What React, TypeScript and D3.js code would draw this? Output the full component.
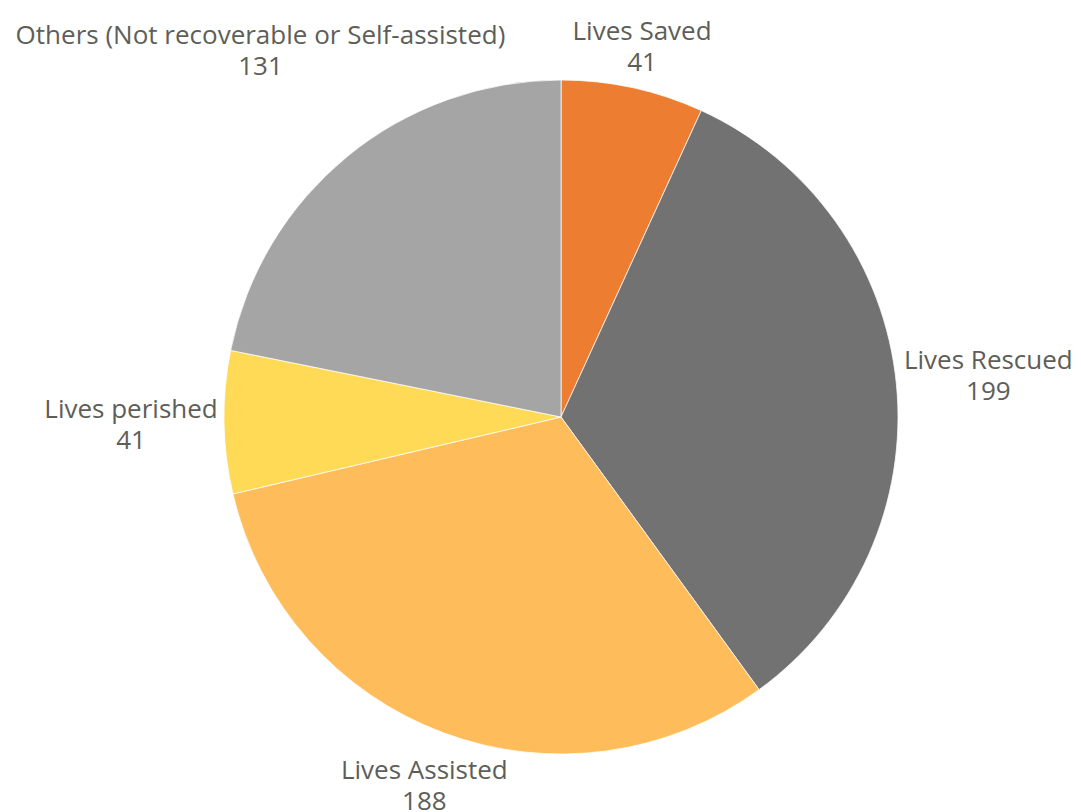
import React, { useEffect, useRef } from "react";
import * as d3 from "d3";

const categories = [
  "Lives Saved",
  "Lives Rescued",
  "Lives Assisted",
  "Lives perished",
  "Others (Not recoverable or Self-assisted)",
];
const values = [41, 199, 188, 41, 131];
const colors = ["#ED7D31", "#727272", "#FEBD5A", "#FFDA57", "#A5A5A5"];

const W = 1081;
const H = 812;
const CX = 561;
const CY = 417;
const R = 337;
const FONT = "'Open Sans', 'Noto Sans', sans-serif";
const FS = 26;
const LINE = 31;
const GAP = 6;
const TEXT_COLOR = "#5e5e58";

export default function App() {
  const ref = useRef<SVGSVGElement | null>(null);

  useEffect(() => {
    const svg = d3.select(ref.current);
    svg.selectAll("*").remove();
    const g = svg.append("g").attr("transform", `translate(${CX},${CY})`);

    const pie = d3
      .pie<number>()
      .sort(null)
      .value((d) => d)
      .startAngle(0)
      .endAngle(2 * Math.PI);
    const arcs = pie(values);
    const arc = d3.arc<d3.PieArcDatum<number>>().innerRadius(0).outerRadius(R);

    g.selectAll("path.slice")
      .data(arcs)
      .enter()
      .append("path")
      .attr("class", "slice")
      .attr("d", arc)
      .attr("fill", (_, i) => colors[i])
      .attr("stroke", "#ffffff")
      .attr("stroke-width", 0.75);

    arcs.forEach((a, i) => {
      const text = g
        .append("text")
        .attr("text-anchor", "middle")
        .attr("font-family", FONT)
        .attr("font-size", FS)
        .attr("fill", TEXT_COLOR);
      text
        .append("tspan")
        .attr("x", 0)
        .attr("y", -LINE / 2)
        .attr("dominant-baseline", "central")
        .text(categories[i]);
      text
        .append("tspan")
        .attr("x", 0)
        .attr("y", LINE / 2)
        .attr("dominant-baseline", "central")
        .text(String(values[i]));
      const bb = (text.node() as SVGTextElement).getBBox();
      const hw = bb.width / 2;
      const hh = (LINE + FS) / 2;
      const mid = (a.startAngle + a.endAngle) / 2;
      const dx = Math.sin(mid);
      const dy = -Math.cos(mid);
      let d = R;
      for (; d < R + 400; d += 0.5) {
        const x = dx * d;
        const y = dy * d;
        const nx = Math.max(x - hw, Math.min(0, x + hw));
        const ny = Math.max(y - hh, Math.min(0, y + hh));
        if (Math.hypot(nx, ny) >= R + GAP) break;
      }
      text.attr("transform", `translate(${dx * d},${dy * d})`);
    });
  }, []);

  return (
    <svg
      ref={ref}
      width={W}
      height={H}
      style={{ position: "absolute", left: 0, top: 0, background: "#ffffff" }}
    />
  );
}
